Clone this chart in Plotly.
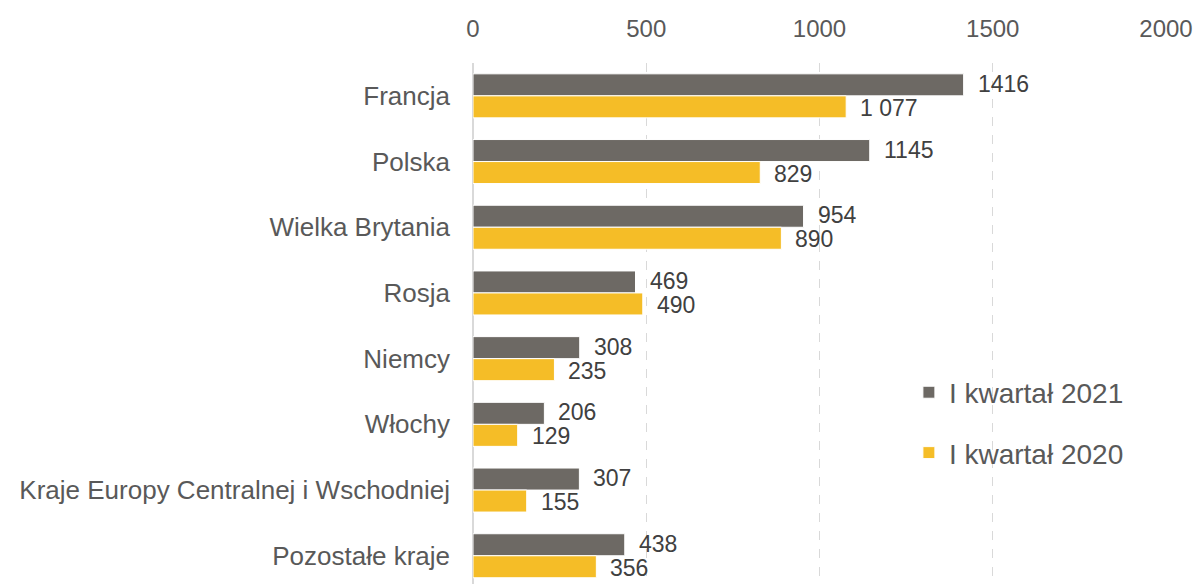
import plotly.graph_objects as go

categories = ["Francja", "Polska", "Wielka Brytania", "Rosja", "Niemcy", "Włochy",
              "Kraje Europy Centralnej i Wschodniej", "Pozostałe kraje"]
values_2021 = [1416, 1145, 954, 469, 308, 206, 307, 438]
values_2020 = [1077, 829, 890, 490, 235, 129, 155, 356]
labels_2021 = ["1416", "1145", "954", "469", "308", "206", "307", "438"]
labels_2020 = ["1 077", "829", "890", "490", "235", "129", "155", "356"]
series_names = ["I kwartał 2021", "I kwartał 2020"]
x_ticks = [0, 500, 1000, 1500, 2000]

GRAY = "#6d6964"
YELLOW = "#f5bd27"
FONT = "Liberation Sans, Arial, sans-serif"

fig = go.Figure()
fig.add_trace(go.Bar(y=categories, x=values_2021, orientation="h", name=series_names[0],
                     marker=dict(color=GRAY, line=dict(color="white", width=1)),
                     legendgroup="a", hoverinfo="skip"))
fig.add_trace(go.Bar(y=categories, x=values_2020, orientation="h", name=series_names[1],
                     marker=dict(color=YELLOW, line=dict(color="white", width=1)),
                     legendgroup="b", hoverinfo="skip"))

annotations = []
for cat, v, t in zip(categories, values_2021, labels_2021):
    annotations.append(dict(x=v, y=cat, text=t, xanchor="left", yanchor="middle",
                            xshift=12, yshift=12, showarrow=False,
                            font=dict(size=23, color="#404040", family=FONT)))
for cat, v, t in zip(categories, values_2020, labels_2020):
    annotations.append(dict(x=v, y=cat, text=t, xanchor="left", yanchor="middle",
                            xshift=12, yshift=-12, showarrow=False,
                            font=dict(size=23, color="#404040", family=FONT)))

fig.update_layout(
    width=1197, height=584,
    margin=dict(l=473, r=31, t=63, b=0, autoexpand=False),
    paper_bgcolor="white", plot_bgcolor="white",
    barmode="group", bargap=0.33, bargroupgap=0,
    font=dict(family=FONT, size=24, color="#595959"),
    annotations=annotations,
    showlegend=True,
    legend=dict(x=0.629, y=0.4155, xanchor="left", yanchor="top",
                traceorder="grouped", tracegroupgap=21,
                font=dict(size=28, color="#595959", family=FONT),
                bgcolor="rgba(0,0,0,0)", itemwidth=30),
    xaxis=dict(side="top", range=[0, 2000], tickvals=x_ticks,
               ticktext=[str(v) for v in x_ticks], automargin=False,
               showgrid=True, gridcolor="#d9d9d9", griddash="dash", gridwidth=1.3,
               zeroline=True, zerolinecolor="#d9d9d9", zerolinewidth=1.5,
               showline=False, ticks="", ticklabelstandoff=20,
               tickfont=dict(size=24, color="#595959", family=FONT)),
    yaxis=dict(categoryorder="array", categoryarray=categories, automargin=False,
               range=[7.43, -0.5], showgrid=False, zeroline=False, showline=False,
               ticks="", ticklabelstandoff=22,
               tickfont=dict(size=26, color="#595959", family=FONT)),
)

fig.write_html("out.html", config=dict(displayModeBar=False),
               post_script="document.body.style.margin='0';document.body.style.overflow='hidden';")
